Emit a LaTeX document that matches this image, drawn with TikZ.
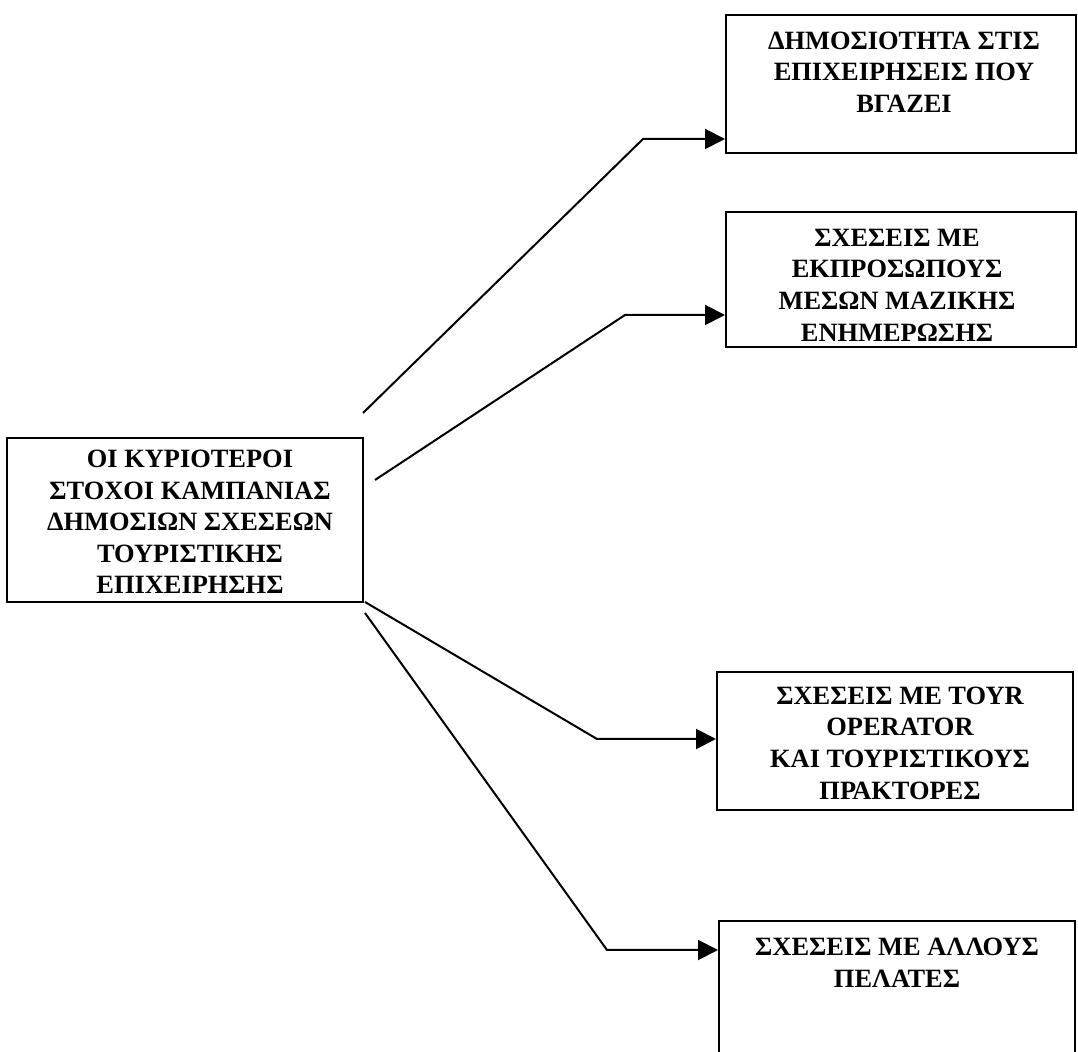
\documentclass[tikz,border=0pt]{standalone}
\usepackage{fontspec}
\setmainfont{Liberation Serif}
\usetikzlibrary{arrows.meta,fit}
\begin{document}
\begin{tikzpicture}[x=0.5pt,y=-0.5pt,
  boxshape/.style={draw,line width=1pt,inner sep=0pt},
  boxtext/.style={align=center,font=\fontsize{13.2}{15.8}\selectfont\bfseries,inner sep=0pt},
  conn/.style={line width=1pt,-{Triangle[length=10pt,width=10pt]}}]
\clip (0,0) rectangle (1078,1052);
\fill[white] (0,0) rectangle (1078,1052);
% boxes
\node[boxshape,fit={(7,438) (363,602)}] (main) {};
\node[boxshape,fit={(726,15) (1076,153)}] (b1) {};
\node[boxshape,fit={(726,212) (1076,347)}] (b2) {};
\node[boxshape,fit={(717,672) (1073,810)}] (b3) {};
\node[boxshape,fit={(719,921) (1075,1090)}] (b4) {};
% texts
\node[boxtext] (tmain) at (190,522) {ΟΙ ΚΥΡΙΟΤΕΡΟΙ\\ΣΤΟΧΟΙ ΚΑΜΠΑΝΙΑΣ\\ΔΗΜΟΣΙΩΝ ΣΧΕΣΕΩΝ\\ΤΟΥΡΙΣΤΙΚΗΣ\\ΕΠΙΧΕΙΡΗΣΗΣ};
\node[boxtext] (t1) at (904,72) {ΔΗΜΟΣΙΟΤΗΤΑ ΣΤΙΣ\\ΕΠΙΧΕΙΡΗΣΕΙΣ ΠΟΥ\\ΒΓΑΖΕΙ};
\node[boxtext] (t2) at (897,285) {ΣΧΕΣΕΙΣ ΜΕ\\ΕΚΠΡΟΣΩΠΟΥΣ\\ΜΕΣΩΝ ΜΑΖΙΚΗΣ\\ΕΝΗΜΕΡΩΣΗΣ};
\node[boxtext] (t3) at (900,743) {ΣΧΕΣΕΙΣ ΜΕ ΤΟΥR\\OPERATOR\\ΚΑΙ ΤΟΥΡΙΣΤΙΚΟΥΣ\\ΠΡΑΚΤΟΡΕΣ};
\node[boxtext] (t4) at (897,963) {ΣΧΕΣΕΙΣ ΜΕ ΑΛΛΟΥΣ\\ΠΕΛΑΤΕΣ};
% connector points
\coordinate (s1) at (363,413);
\coordinate (k1) at (643,139);
\coordinate (s2) at (375,480);
\coordinate (k2) at (625,315);
\coordinate (s3) at (365,602);
\coordinate (k3) at (597,739);
\coordinate (s4) at (365,613);
\coordinate (k4) at (607,950);
\draw[conn] (s1) -- (k1) -- (k1 -| b1.west);
\draw[conn] (s2) -- (k2) -- (k2 -| b2.west);
\draw[conn] (s3) -- (k3) -- (k3 -| b3.west);
\draw[conn] (s4) -- (k4) -- (k4 -| b4.west);
\end{tikzpicture}
\end{document}
